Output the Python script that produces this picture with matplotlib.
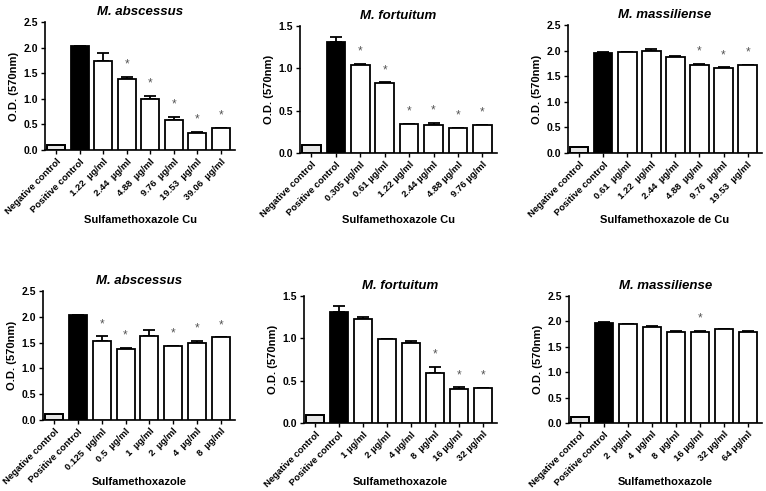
import matplotlib
matplotlib.use("Agg")
import matplotlib.pyplot as plt
import numpy as np

plt.rcParams['font.family'] = ['Liberation Sans', 'DejaVu Sans']
plt.rcParams['font.weight'] = 'bold'

titles = ["M. abscessus", "M. fortuitum", "M. massiliense",
          "M. abscessus", "M. fortuitum", "M. massiliense"]
xlabels = ["Sulfamethoxazole Cu", "Sulfamethoxazole Cu", "Sulfamethoxazole de Cu",
           "Sulfamethoxazole", "Sulfamethoxazole", "Sulfamethoxazole"]

cats1 = ["Negative control", "Positive control", "1.22  µg/ml", "2.44  µg/ml", "4.88  µg/ml",
         "9.76  µg/ml", "19.53  µg/ml", "39.06  µg/ml"]
vals1 = [0.10, 2.03, 1.74, 1.39, 1.00, 0.59, 0.33, 0.42]
errs1 = [0.0, 0.0, 0.15, 0.03, 0.05, 0.06, 0.02, 0.01]
star1 = [0, 0, 0, 1, 1, 1, 1, 1]

cats2 = ["Negative control", "Positive control", "0.305 µg/ml", "0.61 µg/ml", "1.22 µg/ml",
         "2.44 µg/ml", "4.88 µg/ml", "9.76 µg/ml"]
vals2 = [0.10, 1.31, 1.04, 0.83, 0.34, 0.33, 0.29, 0.33]
errs2 = [0.0, 0.06, 0.01, 0.005, 0.005, 0.025, 0.01, 0.0]
star2 = [0, 0, 1, 1, 1, 1, 1, 1]

cats3 = ["Negative control", "Positive control", "0.61  µg/ml", "1.22  µg/ml", "2.44  µg/ml",
         "4.88  µg/ml", "9.76  µg/ml", "19.53  µg/ml"]
vals3 = [0.11, 1.96, 1.97, 1.99, 1.87, 1.72, 1.66, 1.72]
errs3 = [0.0, 0.02, 0.0, 0.04, 0.02, 0.02, 0.01, 0.0]
star3 = [0, 0, 0, 0, 0, 1, 1, 1]

cats4 = ["Negative control", "Positive control", "0.125  µg/ml", "0.5  µg/ml", "1  µg/ml",
         "2  µg/ml", "4  µg/ml", "8  µg/ml"]
vals4 = [0.11, 2.03, 1.53, 1.37, 1.62, 1.43, 1.50, 1.60]
errs4 = [0.0, 0.0, 0.09, 0.02, 0.13, 0.01, 0.04, 0.0]
star4 = [0, 0, 1, 1, 0, 1, 1, 1]

cats5 = ["Negative control", "Positive control", "1 µg/ml", "2 µg/ml", "4 µg/ml",
         "8  µg/ml", "16 µg/ml", "32 µg/ml"]
vals5 = [0.10, 1.31, 1.23, 0.99, 0.94, 0.59, 0.40, 0.41]
errs5 = [0.0, 0.07, 0.02, 0.005, 0.03, 0.07, 0.02, 0.0]
star5 = [0, 0, 0, 0, 0, 1, 1, 1]

cats6 = ["Negative control", "Positive control", "2  µg/ml", "4  µg/ml", "8  µg/ml",
         "16 µg/ml", "32 µg/ml", "64 µg/ml"]
vals6 = [0.11, 1.97, 1.95, 1.89, 1.79, 1.79, 1.86, 1.79]
errs6 = [0.0, 0.02, 0.0, 0.02, 0.02, 0.02, 0.0, 0.02]
star6 = [0, 0, 0, 0, 0, 1, 0, 0]

ymaxs = [2.5, 1.5, 2.5, 2.5, 1.5, 2.5]
yticks = [[0, 0.5, 1.0, 1.5, 2.0, 2.5], [0, 0.5, 1.0, 1.5], [0, 0.5, 1.0, 1.5, 2.0, 2.5],
          [0, 0.5, 1.0, 1.5, 2.0, 2.5], [0, 0.5, 1.0, 1.5], [0, 0.5, 1.0, 1.5, 2.0, 2.5]]

panels = [(cats1, vals1, errs1, star1), (cats2, vals2, errs2, star2), (cats3, vals3, errs3, star3),
          (cats4, vals4, errs4, star4), (cats5, vals5, errs5, star5), (cats6, vals6, errs6, star6)]

W, H = 766, 491
boxes = [(45, 235, 150, 22), (300, 497, 153, 26), (568, 762, 153, 25),
         (43, 235, 420, 291), (304, 497, 423, 296), (569, 762, 423, 296)]
xlabel_y_px = [220, 220, 220, 482, 482, 482]

fig = plt.figure(figsize=(W / 100, H / 100), dpi=100)

for i, ((cats, vals, errs, stars), (l, r, b, t)) in enumerate(zip(panels, boxes)):
    ax = fig.add_axes([l / W, 1 - b / H, (r - l) / W, (b - t) / H])
    x = np.arange(len(cats))
    faces = ['#e6e6e6', 'black'] + ['white'] * (len(cats) - 2)
    ax.bar(x[:1], vals[:1], width=0.76, color='#e6e6e6', edgecolor='#888888',
           hatch='.....', linewidth=0, zorder=2)
    ax.bar(x, vals, width=0.76, color=faces, edgecolor='black', linewidth=1.3, zorder=3)
    ax.bar(x[:1], vals[:1], width=0.76, fill=False, edgecolor='black', linewidth=1.3, zorder=4)
    ax.errorbar(x[1:], np.array(vals[1:]), yerr=[np.zeros(len(x) - 1), errs[1:]],
                fmt='none', ecolor='black', elinewidth=1.3, capsize=4, capthick=1.3, zorder=2)
    ymax = ymaxs[i]
    for xi, v, e, s in zip(x, vals, errs, stars):
        if s:
            ax.text(xi, v + e + 0.05 * ymax, '*', ha='center', va='bottom',
                    fontsize=8.5, color='#555555', fontweight='normal')
    ax.set_ylim(0, ymax)
    ax.set_xlim(-0.47, len(cats) - 0.4)
    ax.set_yticks(yticks[i])
    ax.set_yticklabels([f"{v:.1f}" for v in yticks[i]], fontsize=7.5, fontweight='bold')
    ax.set_xticks(x)
    ax.set_xticklabels(cats, rotation=45, ha='right', rotation_mode='anchor',
                       fontsize=6.8, fontweight='bold')
    ax.spines['top'].set_visible(False)
    ax.spines['right'].set_visible(False)
    ax.spines['left'].set_linewidth(1.2)
    ax.spines['bottom'].set_linewidth(1.2)
    ax.tick_params(axis='both', direction='out', length=3, width=1.0, pad=2)
    ax.set_ylabel("O.D. (570nm)", fontsize=8, fontweight='bold', labelpad=3)
    ax.set_xlabel(xlabels[i], fontsize=8, fontweight='bold', va='center')
    ax.xaxis.set_label_coords(0.5, (b - xlabel_y_px[i]) / (b - t))
    ax.set_title(titles[i], fontsize=9.5, fontweight='bold', style='italic', pad=5)

fig.savefig("out.png", dpi=100)
